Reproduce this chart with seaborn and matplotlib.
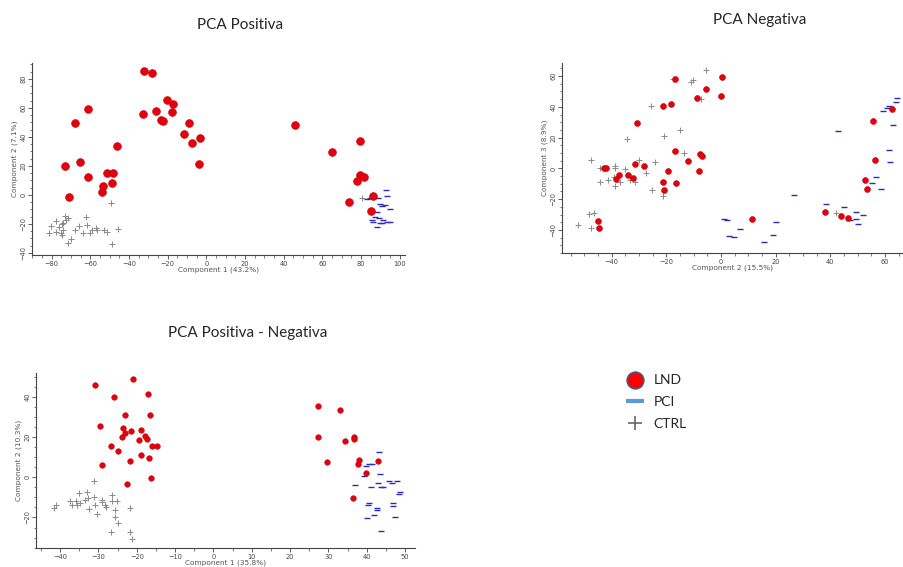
import numpy as np
import pandas as pd
import seaborn as sns
import matplotlib.pyplot as plt
from matplotlib.lines import Line2D
from matplotlib.ticker import MultipleLocator, AutoMinorLocator

sns.set_style('white')

# ---- PCA Positiva ----
pos_lnd_x = [-32.3, -28.3, -68.1, -61.4, -73.1, -65.5, -61.2, -71.0, -51.4, -48.1, -53.5, -54.0,
             -48.7, -46.2, -33.0, -25.9, -20.6, -17.0, -17.8, -23.7, -22.3, -8.9, -11.3, -7.5,
             -3.2, -3.9, 46.1, 64.8, 79.3, 79.5, 81.7, 77.8, 86.0, 73.6, 85.0]
pos_lnd_y = [85.5, 84.1, 49.9, 59.3, 20.0, 22.8, 12.4, -1.1, 15.2, 15.2, 6.4, 1.8,
             8.0, 34.0, 55.9, 58.2, 65.7, 63.0, 57.0, 52.0, 51.3, 49.4, 41.8, 35.9,
             39.5, 21.6, 48.5, 29.4, 37.0, 14.0, 12.2, 9.7, -0.5, -4.6, -10.8]
pos_pci_x = [92.9, 93.3, 86.4, 84.7, 89.0, 83.0, 89.8, 92.4, 90.7, 95.0, 88.1, 87.3,
             89.5, 91.6, 93.3, 86.4, 90.7, 95.0, 88.4, 85.6, 89.8]
pos_pci_y = [3.4, -0.7, -1.2, -2.1, -2.3, -3.0, -6.2, -6.7, -7.6, -9.9, -11.5, -15.4,
             -16.1, -17.2, -18.4, -18.4, -19.1, -18.4, -22.3, -17.0, -19.6]
pos_ctrl_x = [-80.5, -81.2, -77.8, -77.9, -76.0, -75.2, -74.3, -74.0, -73.1, -72.6, -71.7, -74.5,
              -74.8, -67.9, -65.7, -70.2, -71.4, -62.3, -61.6, -60.0, -59.3, -64.0, -57.1, -56.7,
              -52.8, -51.6, -45.9, -48.7, -49.3, 80.4]
pos_ctrl_y = [-21.4, -26.4, -17.7, -25.7, -21.8, -26.4, -24.1, -19.1, -14.5, -17.2, -16.1, -27.6,
              -20.0, -24.1, -21.4, -30.1, -32.9, -15.2, -20.7, -26.4, -24.1, -26.4, -22.5, -23.9,
              -23.9, -25.3, -23.2, -33.8, -5.3, -2.3]

# ---- PCA Negativa ----
neg_lnd_x = [-16.7, 0.4, -5.6, -0.1, -8.8, -18.3, -21.1, -30.9, -16.8, -7.8, -7.0, -12.0,
             -28.3, -31.6, -42.8, -42.2, -37.3, -38.3, -33.9, -32.2, -19.5, -7.9, -21.3, -20.9,
             -16.5, -44.9, -44.8, 11.2, 38.0, 44.0, 46.6, 52.8, 53.4, 56.5, 55.5, 62.4]
neg_lnd_y = [57.9, 59.4, 51.6, 47.1, 45.6, 42.1, 40.3, 29.5, 11.3, 9.5, 8.0, 4.6,
             1.3, 2.8, 0.0, 0.2, -4.6, -6.7, -4.1, -6.3, -1.7, -1.7, -8.9, -13.9,
             -9.3, -34.5, -38.6, -33.0, -28.6, -31.2, -32.5, -7.6, -13.4, 5.2, 30.8, 38.4]
neg_pci_x = [1.1, 2.3, 3.0, 4.8, 7.0, 15.6, 19.1, 20.1, 26.8, 42.9, 38.5, 45.0,
             49.4, 49.3, 47.3, 50.0, 52.1, 55.2, 56.9, 58.6, 61.6, 61.7, 62.8, 59.1,
             60.7, 61.3, 64.1, 64.5]
neg_pci_y = [-33.2, -33.6, -43.8, -44.9, -39.7, -47.7, -43.0, -34.9, -17.6, 24.3, -23.4, -25.2,
             -28.6, -32.8, -33.8, -36.2, -30.2, -9.3, -5.9, -13.4, 11.7, 4.1, 28.2, 37.3,
             39.3, 40.3, 43.2, 46.0]
neg_ctrl_x = [-5.6, -10.2, -11.1, -17.6, -7.4, -25.5, -34.3, -20.7, -15.0, -13.4, -30.2, -24.1,
              -27.3, -35.1, -38.9, -38.8, -44.3, -47.6, -44.3, -41.3, -39.0, -37.1, -38.7, -33.2,
              -31.5, -25.4, -21.3, -48.5, -46.5, -52.2, -47.6, 42.1]
neg_ctrl_y = [63.8, 57.7, 56.0, 58.4, 45.3, 40.8, 19.1, 21.3, 25.2, 10.2, 5.2, 4.3,
              -2.8, -0.4, 1.5, 0.4, 0.2, 5.6, -8.7, -7.6, -5.4, -9.1, -11.3, -7.8,
              -8.9, -13.9, -18.2, -29.7, -29.3, -36.9, -38.6, -29.3]

# ---- PCA Positiva - Negativa ----
pn_lnd_x = [-31.0, -21.0, -25.9, -17.0, -23.0, -16.5, -29.7, -23.7, -21.4, -23.0, -23.9, -19.0,
            -17.8, -17.3, -19.5, -26.7, -15.9, -14.6, -24.9, -18.8, -16.9, -21.9, -29.2, -16.3,
            -22.5, 27.4, 33.1, 27.4, 34.4, 36.7, 36.7, 29.6, 38.1, 37.7, 39.9, 42.9, 36.3]
pn_lnd_y = [46.1, 48.9, 40.2, 41.7, 31.2, 30.9, 25.6, 24.8, 23.0, 22.1, 20.0, 23.5,
            20.8, 19.0, 18.5, 15.7, 15.7, 15.7, 13.1, 11.2, 9.6, 8.3, 6.0, -0.3,
            -3.5, 35.4, 33.7, 20.0, 18.2, 20.2, 19.0, 7.8, 8.8, 6.6, 2.1, 8.1, -10.4]
pn_pci_x = [43.2, 40.5, 41.4, 39.7, 39.4, 43.5, 37.0, 45.7, 46.7, 48.0, 43.0, 41.0,
            43.7, 44.3, 48.7, 48.3, 46.8, 46.9, 40.5, 40.3, 42.6, 42.7, 41.8, 40.1,
            47.3, 43.6]
pn_pci_y = [12.4, 6.6, 6.6, 5.5, 0.5, 1.8, -3.6, -1.7, -2.6, -1.7, -3.0, -4.6,
            -4.6, -4.6, -7.1, -8.3, -12.7, -14.4, -12.9, -13.7, -15.4, -16.5, -18.7, -20.3,
            -19.7, -26.9]
pn_ctrl_x = [-31.2, -41.7, -41.1, -37.3, -37.0, -35.8, -35.0, -34.8, -33.1, -32.8, -32.6, -31.1,
             -30.9, -30.3, -29.1, -29.1, -28.4, -28.0, -26.5, -26.5, -25.2, -25.7, -25.7, -25.0,
             -26.7, -21.7, -21.9, -21.3, -35.5, -33.4]
pn_ctrl_y = [-2.0, -15.5, -14.0, -11.9, -14.0, -11.9, -7.9, -12.7, -7.3, -10.4, -16.0, -9.8,
             -13.9, -18.2, -11.1, -12.4, -13.7, -14.7, -8.6, -11.7, -11.6, -16.5, -19.8, -22.6,
             -27.1, -15.4, -27.1, -30.7, -13.7, -11.2]

red = '#e3000f'
blue = '#2b2bb8'
gray = '#8a8a8a'

W, H = 904, 567
fig = plt.figure(figsize=(9.04, 5.67), dpi=100)


def box(l, r, t, b):
    return [l / W, 1 - b / H, (r - l) / W, (b - t) / H]


def panel(rect, lnd, pci, ctrl, xlim, ylim, xmaj, xminor, ymaj, xlabel, ylabel, dot, mk):
    ax = fig.add_axes(rect)
    sns.scatterplot(x=ctrl[0], y=ctrl[1], marker='+', color=gray, s=mk, linewidth=0.7, ax=ax)
    sns.scatterplot(x=pci[0], y=pci[1], marker='_', color=blue, s=mk + 4, linewidth=1.0, ax=ax)
    sns.scatterplot(x=lnd[0], y=lnd[1], marker='o', color=red, s=dot, edgecolor='#c40000',
                    linewidth=0.4, ax=ax)
    ax.set_xlim(*xlim)
    ax.set_ylim(*ylim)
    for s in ['top', 'right']:
        ax.spines[s].set_visible(False)
    for s in ['left', 'bottom']:
        ax.spines[s].set_color('#444444')
        ax.spines[s].set_linewidth(0.8)
    ax.xaxis.set_major_locator(MultipleLocator(xmaj))
    ax.xaxis.set_minor_locator(AutoMinorLocator(xminor))
    ax.yaxis.set_major_locator(MultipleLocator(ymaj))
    ax.yaxis.set_minor_locator(AutoMinorLocator(4))
    ax.tick_params(which='both', direction='out', color='#444444', labelsize=4.8,
                   labelcolor='#444444', bottom=True, left=True, pad=1)
    ax.tick_params(which='major', length=3, width=0.6)
    ax.tick_params(which='minor', length=1.8, width=0.5)
    for lab in ax.get_yticklabels():
        lab.set_rotation(90)
        lab.set_va('center')
    ax.set_xlabel(xlabel, fontsize=5.3, color='#555555', labelpad=0)
    ax.set_ylabel(ylabel, fontsize=5.3, color='#555555', labelpad=2)
    return ax


panel(box(32, 405, 63, 255), (pos_lnd_x, pos_lnd_y), (pos_pci_x, pos_pci_y),
      (pos_ctrl_x, pos_ctrl_y), (-90.2, 102.8), (-41.4, 91), 20, 4, 20,
      'Component 1 (43.2%)', 'Component 2 (7.1%)', 32, 20)
panel(box(562, 903, 63, 253), (neg_lnd_x, neg_lnd_y), (neg_pci_x, neg_pci_y),
      (neg_ctrl_x, neg_ctrl_y), (-58.2, 66.6), (-55, 68.5), 20, 4, 20,
      'Component 2 (15.5%)', 'Component 3 (8.9%)', 18, 16)
panel(box(36, 415, 373, 548), (pn_lnd_x, pn_lnd_y), (pn_pci_x, pn_pci_y),
      (pn_ctrl_x, pn_ctrl_y), (-46.3, 52.6), (-35.2, 52), 10, 2, 20,
      'Component 1 (35.8%)', 'Component 2 (10.3%)', 16, 14)

title_font = dict(fontsize=11, family=['Lato', 'DejaVu Sans'], ha='center', va='center')
fig.text(240 / W, 1 - 25 / H, 'PCA Positiva', **title_font)
fig.text(760 / W, 1 - 20 / H, 'PCA Negativa', **title_font)
fig.text(248 / W, 1 - 333 / H, 'PCA Positiva - Negativa', **title_font)

handles = [
    Line2D([], [], marker='o', ls='', markersize=12, markerfacecolor='#ff0000',
           markeredgecolor='#555577', markeredgewidth=1.2),
    Line2D([], [], marker='_', ls='', markersize=13, markeredgecolor='#5b9bd5',
           markeredgewidth=3),
    Line2D([], [], marker='+', ls='', markersize=10, markeredgecolor='#666666',
           markeredgewidth=1.2),
]
fig.legend(handles, ['LND', 'PCI', 'CTRL'], loc='upper left',
           bbox_to_anchor=(612 / W, 1 - 362 / H), frameon=False,
           prop={'family': ['Lato', 'DejaVu Sans'], 'size': 10},
           labelspacing=0.7, handletextpad=0.6, handlelength=1.5)

fig.savefig('out.png', dpi=100)
